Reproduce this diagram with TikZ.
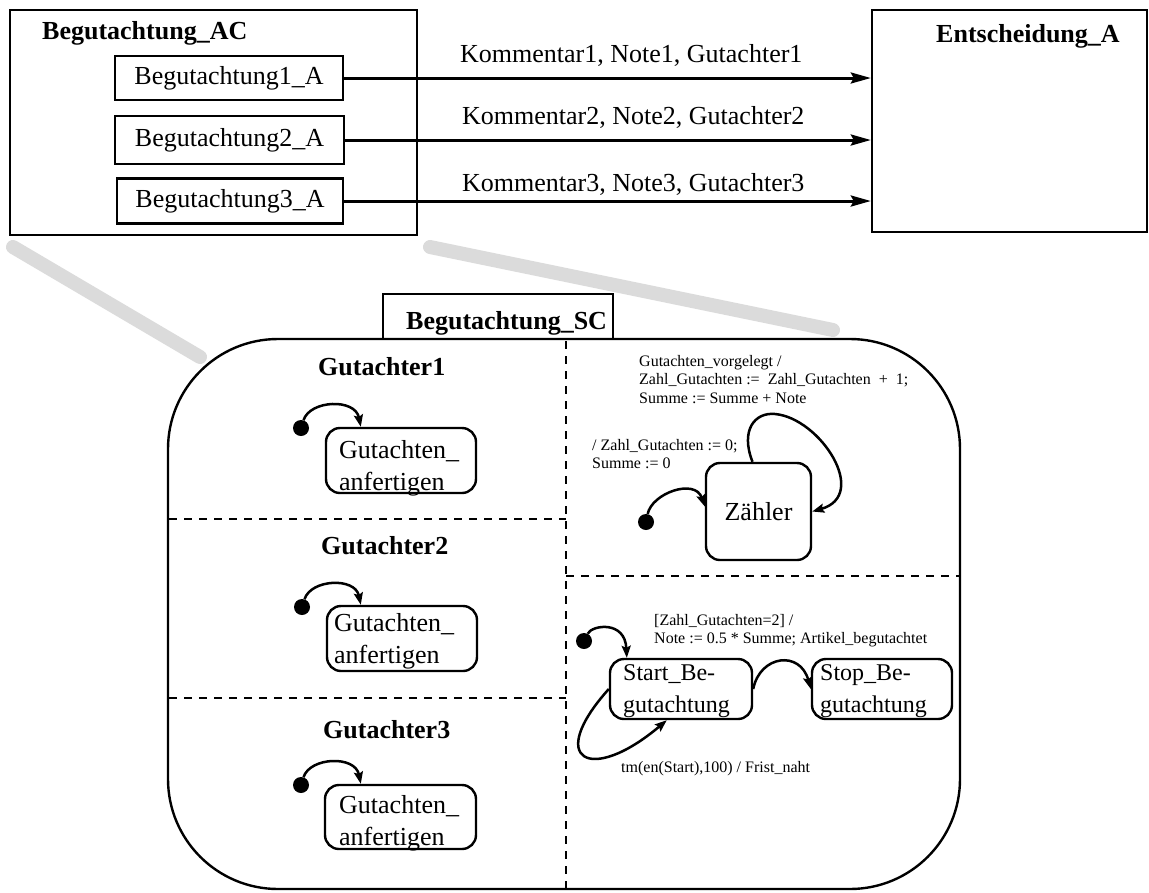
\documentclass[tikz,border=0pt]{standalone}
\usepackage{fontspec}
\setmainfont{Liberation Serif}
\usetikzlibrary{arrows.meta}
\newcommand\fsz[2]{\fontsize{#1}{#2}\selectfont}

\begin{document}
\begin{tikzpicture}[x=1pt,y=-1pt,
  frame/.style={draw,line width=2.4pt,inner sep=0pt},
  state/.style={draw,line width=2.4pt,inner sep=0pt,rounded corners=14pt},
  txt/.style={inner sep=0pt,anchor=base west,align=left},
  big/.style={font=\fsz{26}{32}},
  title/.style={font=\fsz{26}{32}\bfseries},
  small/.style={font=\fsz{16}{18.5}},
  initdot/.style={circle,fill=black,inner sep=0pt,minimum size=16pt},
  flow/.style={line width=3pt,-{Stealth[length=20pt,width=11pt,inset=3pt]}},
  trans/.style={line width=2.5pt,-{Stealth[length=12pt,width=9pt,inset=2pt]}},
  divider/.style={line width=2.2pt,dash pattern=on 8pt off 7pt},
  zoomband/.style={line width=14pt,line cap=round,draw=black!14}]

\useasboundingbox (0,0) rectangle (1149,892);

% zoom bands linking the activity chart to the statechart
\draw[zoomband] (13,247) -- (200,357);
\draw[zoomband] (430,247) -- (833,330);

% ---------- activity chart ----------
\node[frame,minimum width=407pt,minimum height=225pt] (ac) at (213.5,122.5) {};
\node[txt,title] (actitle) at (42,39) {Begutachtung\_AC};
\node[frame,big,minimum width=228pt,minimum height=44pt] (b1) at (229,78) {Begutachtung1\_A};
\node[frame,big,minimum width=229pt,minimum height=48pt] (b2) at (229.5,140) {Begutachtung2\_A};
\node[frame,big,minimum width=226pt,minimum height=45pt] (b3) at (230,201) {Begutachtung3\_A};

\node[frame,minimum width=275pt,minimum height=222pt] (ent) at (1009.5,121) {};
\node[txt,title] (enttitle) at (936,42) {Entscheidung\_A};

\draw[flow] (b1.east) -- (b1.east -| ent.west);
\draw[flow] (b2.east) -- (b2.east -| ent.west);
\draw[flow] (b3.east) -- (b3.east -| ent.west);
\node[txt,big] (k1) at (460,62) {Kommentar1, Note1, Gutachter1};
\node[txt,big] (k2) at (462,124) {Kommentar2, Note2, Gutachter2};
\node[txt,big] (k3) at (462,191) {Kommentar3, Note3, Gutachter3};

% ---------- statechart ----------
\node[frame,minimum width=230pt,minimum height=45pt] (sctab) at (498,316.5) {};
\node[txt,title] (sctitle) at (406,329) {Begutachtung\_SC};
\node[draw,line width=2.4pt,rounded corners=110pt,minimum width=792pt,minimum height=550pt] (sc) at (564,614) {};

\draw[divider] (566,341) -- (566,889);
\draw[divider] (169,519) -- (566,519);
\draw[divider] (169,698) -- (566,698);
\draw[divider] (566,576) -- (959,576);

% reviewers (multi-line labels are anchored at their last baseline)
\node[txt,title] (r1) at (318,375) {Gutachter1};
\node[txt,title] (r2) at (321,554) {Gutachter2};
\node[txt,title] (r3) at (323,738) {Gutachter3};

\node[state,minimum width=150pt,minimum height=65pt] (g1) at (401,460.5) {};
\node[txt,big] (g1t) at (339,490) {Gutachten\_\\anfertigen};
\node[initdot] (d1) at (301,428) {};
\draw[trans] (d1) .. controls (310,400) and (355,398) .. ([xshift=36pt]g1.north west);

\node[state,minimum width=150pt,minimum height=65pt] (g2) at (402,638.5) {};
\node[txt,big] (g2t) at (334,663) {Gutachten\_\\anfertigen};
\node[initdot] (d2) at (302,607) {};
\draw[trans] (d2) .. controls (311,579) and (355,577) .. ([xshift=35pt]g2.north west);

\node[state,minimum width=151pt,minimum height=64pt] (g3) at (400.5,817) {};
\node[txt,big] (g3t) at (339,845) {Gutachten\_\\anfertigen};
\node[initdot] (d3) at (301,785) {};
\draw[trans] (d3) .. controls (310,757) and (355,755) .. ([xshift=37pt]g3.north west);

% counter
\node[state,big,minimum width=105pt,minimum height=97pt] (z) at (758.5,511.5) {Z\"ahler};
\node[initdot] (d4) at (646,522) {};
\draw[trans] (d4) .. controls (652,493) and (695,478) .. ([yshift=5pt]z.west);
\draw[trans] ([xshift=-6pt]z.north) .. controls (740,430) and (755,412) .. (775,414)
  .. controls (820,418) and (870,495) .. (z.east);
\node[txt,small] (zl1) at (639,403) {Gutachten\_vorgelegt /\\Zahl\_Gutachten :=\ \ Zahl\_Gutachten\ \ +\ \ 1;\\Summe := Summe + Note};
\node[txt,small] (zl2) at (592,468.5) {/ Zahl\_Gutachten := 0;\\Summe := 0};

% review start / stop
\node[state,minimum width=142pt,minimum height=60pt] (s1) at (681,689) {};
\node[txt,font=\fsz{24}{32}] (s1t) at (623,712) {Start\_Be-\\gutachtung};
\node[state,minimum width=140pt,minimum height=60pt] (s2) at (882,689) {};
\node[txt,font=\fsz{24}{32}] (s2t) at (820,712) {Stop\_Be-\\gutachtung};
\node[initdot] (d5) at (584,641) {};
\draw[trans] (d5) .. controls (592,625) and (625,620) .. ([xshift=18pt]s1.north west);
\draw[trans] (s1.east) .. controls (760,655) and (800,650) .. (s2.west);
\draw[trans] (s1.west) .. controls (545,760) and (590,785) .. ([xshift=58pt]s1.south west);
\node[txt,small] (sl1) at (654,643.5) {[Zahl\_Gutachten=2] /\\Note := 0.5 * Summe; Artikel\_begutachtet};
\node[txt,small] (sl2) at (621,772) {tm(en(Start),100) / Frist\_naht};

\end{tikzpicture}
\end{document}
